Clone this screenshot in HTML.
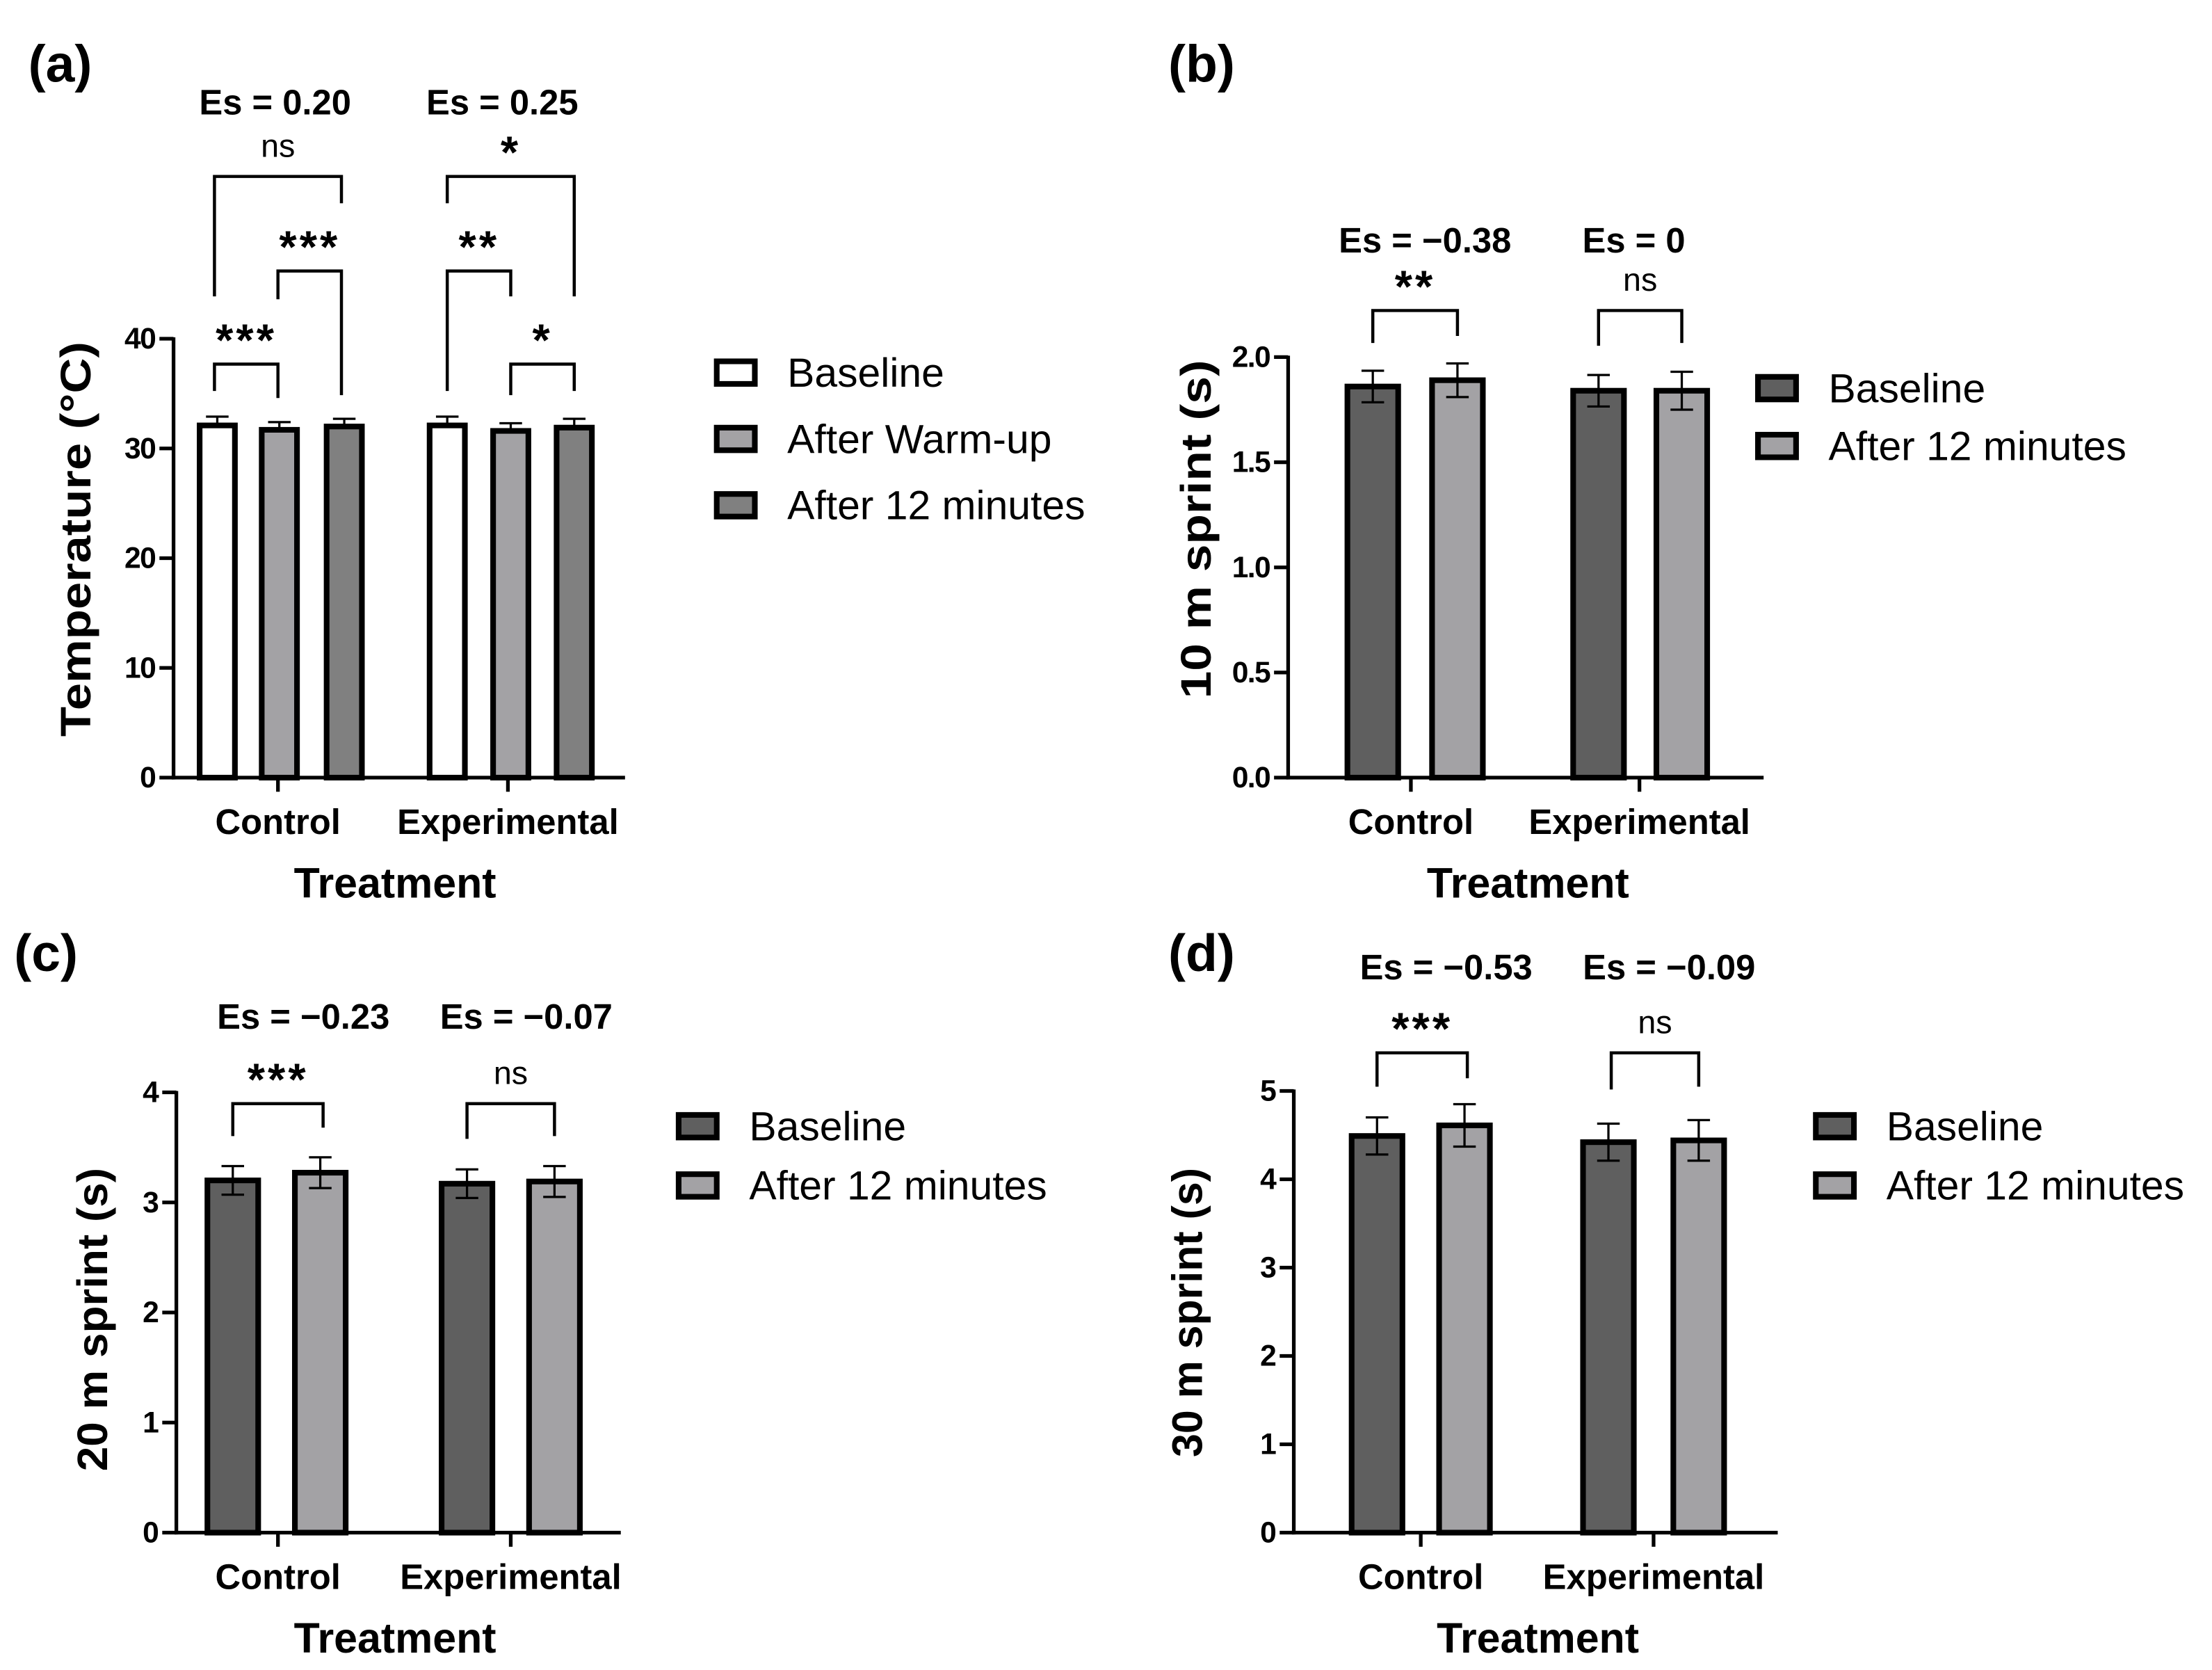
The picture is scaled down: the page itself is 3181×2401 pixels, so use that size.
<!DOCTYPE html>
<html><head><meta charset="utf-8"><style>
html,body{margin:0;padding:0;background:#fff}
svg{display:block}
text{font-family:"Liberation Sans",Arial,sans-serif}
.tick{font-weight:bold;font-size:21px}
.big{font-weight:bold;font-size:25px}
.leg{font-size:29px}
</style></head><body>
<svg id="fig" width="3181" height="2401" viewBox="0 0 1567.8 1183.3" xmlns="http://www.w3.org/2000/svg"></svg>
<script>
// Panel (a) temperature
const aCategories = ["Control","Experimental"];
const aSeriesNames = ["Baseline","After Warm-up","After 12 minutes"];
const aBaseline = [32.1, 32.1];
const aWarmup = [31.7, 31.6];
const a12min = [32.0, 31.9];
const aErrBaseline = [0.8, 0.8];
const aErrWarmup = [0.7, 0.7];
const aErr12min = [0.7, 0.8];
const aTicks = [0,10,20,30,40];
const aEs = ["Es = 0.20","Es = 0.25"];
// Panel (b) 10 m sprint
const bCategories = ["Control","Experimental"];
const bBaseline = [1.86, 1.84];
const b12min = [1.89, 1.84];
const bErrBaseline = [0.075, 0.075];
const bErr12min = [0.08, 0.09];
const bTicks = [0,0.5,1.0,1.5,2.0];
const bTickLabels = ["0.0","0.5","1.0","1.5","2.0"];
const bEs = ["Es = \u22120.38","Es = 0"];
const bSig = ["**","ns"];
// Panel (c) 20 m sprint
const cBaseline = [3.20, 3.17];
const c12min = [3.27, 3.19];
const cErrBaseline = [0.13, 0.13];
const cErr12min = [0.14, 0.14];
const cTicks = [0,1,2,3,4];
const cEs = ["Es = \u22120.23","Es = \u22120.07"];
const cSig = ["***","ns"];
// Panel (d) 30 m sprint
const dBaseline = [4.49, 4.42];
const d12min = [4.61, 4.44];
const dErrBaseline = [0.21, 0.21];
const dErr12min = [0.24, 0.23];
const dTicks = [0,1,2,3,4,5];
const dEs = ["Es = \u22120.53","Es = \u22120.09"];
const dSig = ["***","ns"];

const NS="http://www.w3.org/2000/svg";
const svg=document.getElementById('fig');
function el(tag,attrs,parent,txt){const e=document.createElementNS(NS,tag);for(const k in attrs)e.setAttribute(k,attrs[k]);if(txt!==undefined)e.textContent=txt;(parent||svg).appendChild(e);return e;}
function ln(g,x1,y1,x2,y2,w){return el('line',{x1,y1,x2,y2,stroke:'#000','stroke-width':w||2.2},g);}

function panel(cfg){
  const g=el('g',{});
  
  
  const y=v=>cfg.y0-(v-cfg.min)/(cfg.max-cfg.min)*(cfg.y0-cfg.yTop);
  const ax=ln(g,cfg.axX,cfg.yTop-1,cfg.axX,cfg.y0+1.3,2.6);
  
  const xa=ln(g,cfg.axX-1.3,cfg.y0,cfg.axEnd,cfg.y0,2.6);
  
  cfg.ticks.forEach((t,i)=>{
    ln(g,cfg.axX-10,y(t),cfg.axX,y(t),2.6);
    const tx=el('text',{x:cfg.axX-13,y:y(t)+7,'text-anchor':'end',class:'tick',style:'letter-spacing:-0.8px'},g,cfg.tickLabels?cfg.tickLabels[i]:String(t));
    
  });
  cfg.series.forEach((s,si)=>{
    s.vals.forEach((v,ci)=>{
      const cx=cfg.centers[ci][si];
      const r=el('rect',{x:cx-cfg.bw/2,y:y(v),width:cfg.bw,height:cfg.y0-y(v),fill:s.color,stroke:'#000','stroke-width':4},g);
      
      
      const e=s.err[ci];
      ln(g,cx,y(v+e),cx,cfg.upOnly?y(v):y(v-e),1.6);
      ln(g,cx-8,y(v+e),cx+8,y(v+e),1.6);
      if(!cfg.upOnly) ln(g,cx-8,y(v-e),cx+8,y(v-e),1.6);
    });
  });
  cfg.cats.forEach((c,ci)=>{
    const m=cfg.catX[ci];
    ln(g,m,cfg.y0,m,cfg.y0+10,2.6);
    const t=el('text',{x:m,y:cfg.y0+40,'text-anchor':'middle',class:'tick',style:'font-size:25px'},g,c);
    
  });
  const xt=el('text',{x:cfg.xTitleX,y:cfg.y0+85,'text-anchor':'middle',class:'big',style:'font-size:30px'},g,'Treatment');
  
  const yt=el('text',{x:0,y:0,'text-anchor':'middle',class:'big',style:'font-size:30px',textLength:cfg.yTitleLen,lengthAdjust:'spacingAndGlyphs',transform:`translate(${cfg.yTitleX},${cfg.yTitleY}) rotate(-90)`},g,cfg.ytitle);
  
  const pl=el('text',{x:cfg.lx,y:cfg.ly,class:'big',style:'font-size:37px'},g,cfg.letter);
  
  cfg.es.forEach((s,i)=>{
    const t=el('text',{x:cfg.esX[i],y:cfg.esY,'text-anchor':'middle',class:'big',style:'font-size:25px'},g,s);
    
  });
  cfg.brackets.forEach(b=>{
    const p=el('polyline',{points:`${b.x1},${b.l1} ${b.x1},${b.top} ${b.x2},${b.top} ${b.x2},${b.l2}`,fill:'none',stroke:'#000','stroke-width':2.2},g);
    
    const ns=b.label==='ns';
    const t=el('text',{x:(b.x1+b.x2)/2,y:ns?b.top-14:b.top-6,'text-anchor':'middle',style:ns?'font-size:23px':'font-size:32px;font-weight:bold;letter-spacing:2px'},g,b.label);
    
  });
  cfg.series.forEach((s,si)=>{
    const ly=cfg.legY+si*cfg.legDy;
    const r=el('rect',{x:cfg.legX,y:ly-8,width:27,height:16,fill:s.color,stroke:'#000','stroke-width':4},g);
    
    const t=el('text',{x:cfg.legX+50,y:ly+10,class:'leg'},g,s.name);
    
  });
}

const DARK='#5f5f5f',LIGHT='#a3a2a5',MID='#808080';

panel({name:'panel-a-temperature',letter:'(a)',lx:20,ly:58,min:0,max:40,y0:551,yTop:240,axX:123,axEnd:443,
  ticks:aTicks,cats:aCategories,catX:[197,360],bw:25,upOnly:true,
  centers:[[154,198,244],[317,362,407]],
  series:[{key:'baseline',name:aSeriesNames[0],vals:aBaseline,err:aErrBaseline,color:'#fff'},
          {key:'after-warm-up',name:aSeriesNames[1],vals:aWarmup,err:aErrWarmup,color:LIGHT},
          {key:'after-12-minutes',name:aSeriesNames[2],vals:a12min,err:aErr12min,color:MID}],
  xTitleX:280,yTitleX:64,yTitleY:382,yTitleLen:280,ytitle:'Temperature  (\u00B0C)',
  es:aEs,esX:[195,356],esY:81,
  brackets:[
    {x1:152,x2:197,top:258,l1:277,l2:282,label:'***'},
    {x1:197,x2:242,top:192,l1:212,l2:280,label:'***'},
    {x1:152,x2:242,top:125,l1:210,l2:144,label:'ns'},
    {x1:317,x2:362,top:192,l1:277,l2:210,label:'**'},
    {x1:317,x2:407,top:125,l1:144,l2:210,label:'*'},
    {x1:362,x2:407,top:258,l1:280,l2:277,label:'*'}],
  legX:508,legY:264,legDy:47});

panel({name:'panel-b-10m-sprint',letter:'(b)',lx:828,ly:58,min:0,max:2,y0:551,yTop:253,axX:913,axEnd:1250,
  ticks:bTicks,tickLabels:bTickLabels,cats:bCategories,catX:[1000,1162],bw:36,
  centers:[[973,1033],[1133,1192]],
  series:[{key:'baseline',name:'Baseline',vals:bBaseline,err:bErrBaseline,color:DARK},
          {key:'after-12-minutes',name:'After 12 minutes',vals:b12min,err:bErr12min,color:LIGHT}],
  xTitleX:1083,yTitleX:858,yTitleY:375,yTitleLen:240,ytitle:'10 m sprint (s)',
  es:bEs,esX:[1010,1158],esY:179,
  brackets:[{x1:973,x2:1033,top:220,l1:243,l2:238,label:bSig[0]},{x1:1133,x2:1192,top:220,l1:245,l2:243,label:bSig[1]}],
  legX:1246,legY:275,legDy:41});

panel({name:'panel-c-20m-sprint',letter:'(c)',lx:10,ly:688,min:0,max:4,y0:1086,yTop:774,axX:125,axEnd:440,
  ticks:cTicks,cats:['Control','Experimental'],catX:[197,362],bw:36,
  centers:[[165,227],[331,393]],
  series:[{key:'baseline',name:'Baseline',vals:cBaseline,err:cErrBaseline,color:DARK},
          {key:'after-12-minutes',name:'After 12 minutes',vals:c12min,err:cErr12min,color:LIGHT}],
  xTitleX:280,yTitleX:76,yTitleY:935,yTitleLen:215,ytitle:'20 m sprint (s)',
  es:cEs,esX:[215,373],esY:729,
  brackets:[{x1:165,x2:229,top:782,l1:805,l2:799,label:cSig[0]},{x1:331,x2:393,top:782,l1:807,l2:805,label:cSig[1]}],
  legX:481,legY:798,legDy:42});

panel({name:'panel-d-30m-sprint',letter:'(d)',lx:828,ly:688,min:0,max:5,y0:1086,yTop:773,axX:917,axEnd:1260,
  ticks:dTicks,cats:['Control','Experimental'],catX:[1007,1172],bw:36,
  centers:[[976,1038],[1140,1204]],
  series:[{key:'baseline',name:'Baseline',vals:dBaseline,err:dErrBaseline,color:DARK},
          {key:'after-12-minutes',name:'After 12 minutes',vals:d12min,err:dErr12min,color:LIGHT}],
  xTitleX:1090,yTitleX:852,yTitleY:930,yTitleLen:205,ytitle:'30 m sprint (s)',
  es:dEs,esX:[1025,1183],esY:694,
  brackets:[{x1:976,x2:1040,top:746,l1:770,l2:764,label:dSig[0]},{x1:1142,x2:1204,top:746,l1:772,l2:770,label:dSig[1]}],
  legX:1287,legY:798,legDy:42});
</script>
</body></html>
